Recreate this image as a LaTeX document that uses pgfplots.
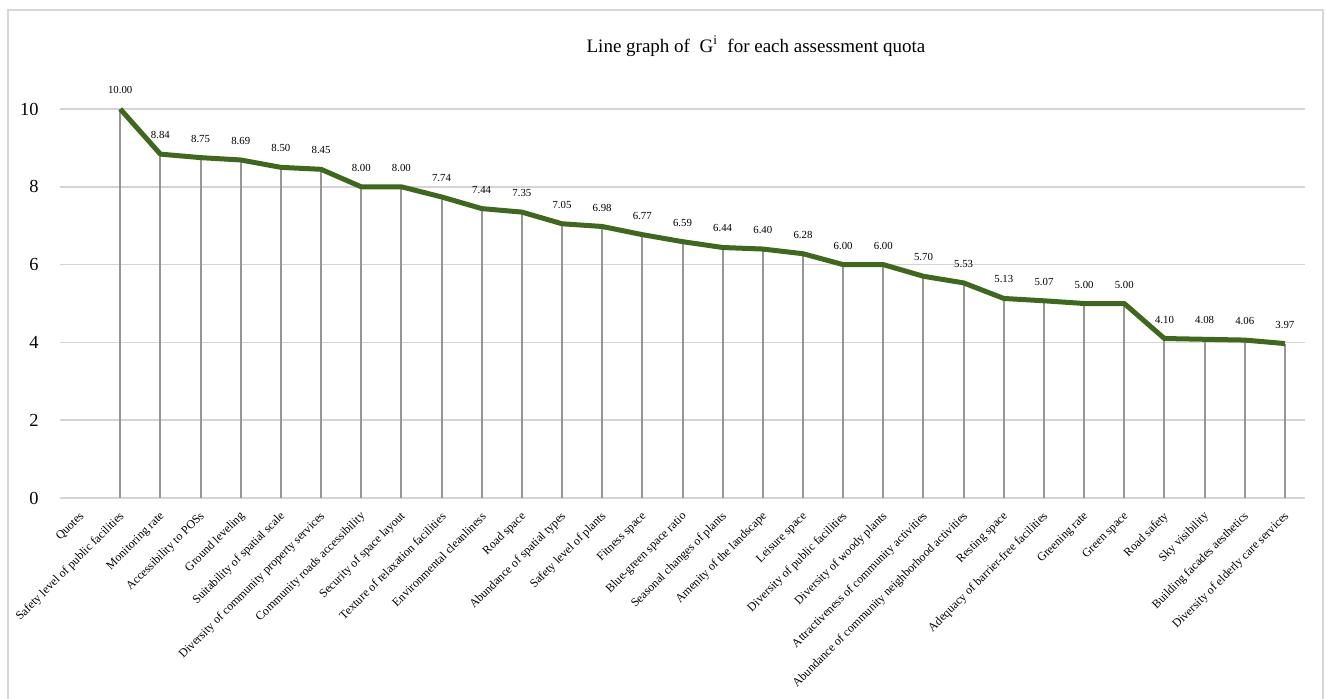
\documentclass[border=0pt]{standalone}
\usepackage{fontspec}
\setmainfont{Liberation Serif}
\usepackage{pgfplots}
\pgfplotsset{compat=1.18}
\usepackage{pgfplotstable}

\definecolor{linegreen}{RGB}{62,104,28}
\definecolor{dropgray}{RGB}{150,150,150}
\definecolor{gridgray}{RGB}{212,212,212}
\definecolor{framegray}{RGB}{215,215,215}

% G^i of each assessment quota (position 0 is the "Quotes" heading, no value)
\pgfplotstableread[col sep=comma]{
x,value
1,10.00
2,8.84
3,8.75
4,8.69
5,8.50
6,8.45
7,8.00
8,8.00
9,7.74
10,7.44
11,7.35
12,7.05
13,6.98
14,6.77
15,6.59
16,6.44
17,6.40
18,6.28
19,6.00
20,6.00
21,5.70
22,5.53
23,5.13
24,5.07
25,5.00
26,5.00
27,4.10
28,4.08
29,4.06
30,3.97
}\gdata

\begin{document}
\begin{tikzpicture}
\begin{axis}[
  scale only axis,
  width=622.5pt, height=194.5pt,
  xmin=-0.5, xmax=30.5,
  ymin=0, ymax=10,
  clip=false,
  axis line style={draw=none},
  major tick length=0pt,
  ytick={0,2,4,6,8,10},
  ymajorgrids,
  grid style={gridgray, line width=0.75pt},
  yticklabel style={font=\fontsize{9.2}{10}\selectfont, anchor=east, inner sep=0pt, xshift=-10.5pt},
  /pgf/number format/assume math mode=true,
  xtick={0,...,30},
  xticklabels={Quotes, Safety level of public facilities, Monitoring rate, Accessibility to POSs, Ground leveling, Suitability of spatial scale, Diversity of community property services, Community roads accessibility, Security of space layout, Texture of relaxation facilities, Environmental cleanliness, Road space, Abundance of spatial types, Safety level of plants, Fitness space, Blue-green space ratio, Seasonal changes of plants, Amenity of the landscape, Leisure space, Diversity of public facilities, Diversity of woody plants, Attractiveness of community activities, Abundance of community neighborhood activities, Resting space, Adequacy of barrier-free facilities, Greening rate, Green space, Road safety, Sky visibility, Building facades aesthetics, Diversity of elderly care services},
  xticklabel style={font=\fontsize{6}{7}\selectfont, xshift=1.2pt, yshift=-8.2pt, rotate=45, anchor=east, inner sep=0pt},
  title={Line graph of\ \ G\textsuperscript{i}\ \ for each assessment quota},
  title style={font=\fontsize{9.5}{11}\selectfont, at={(axis description cs:0.559,1.131)}, anchor=center},
]
  % drop lines from each value to the baseline
  \addplot[ycomb, draw=dropgray, line width=1pt, mark=none] table[x=x, y=value] {\gdata};
  % main line with value labels
  \addplot[linegreen, line width=2.5pt, line join=round, mark=none,
    nodes near coords={\pgfmathprintnumber[fixed, fixed zerofill, precision=2, assume math mode=true]{\pgfplotspointmeta}},
    every node near coord/.append style={font=\fontsize{5.4}{6}\selectfont, text=black, anchor=center, yshift=9.5pt},
  ] table[x=x, y=value] {\gdata};
\end{axis}
% outer frame
\draw[framegray, line width=0.6pt] (-26pt,-101pt) -- (-26pt,244pt) -- (631.5pt,244pt) -- (631.5pt,-101pt);
\pgfresetboundingbox
\path[use as bounding box] (-30pt,-100pt) rectangle (632.5pt,249pt);
\end{tikzpicture}
\end{document}
